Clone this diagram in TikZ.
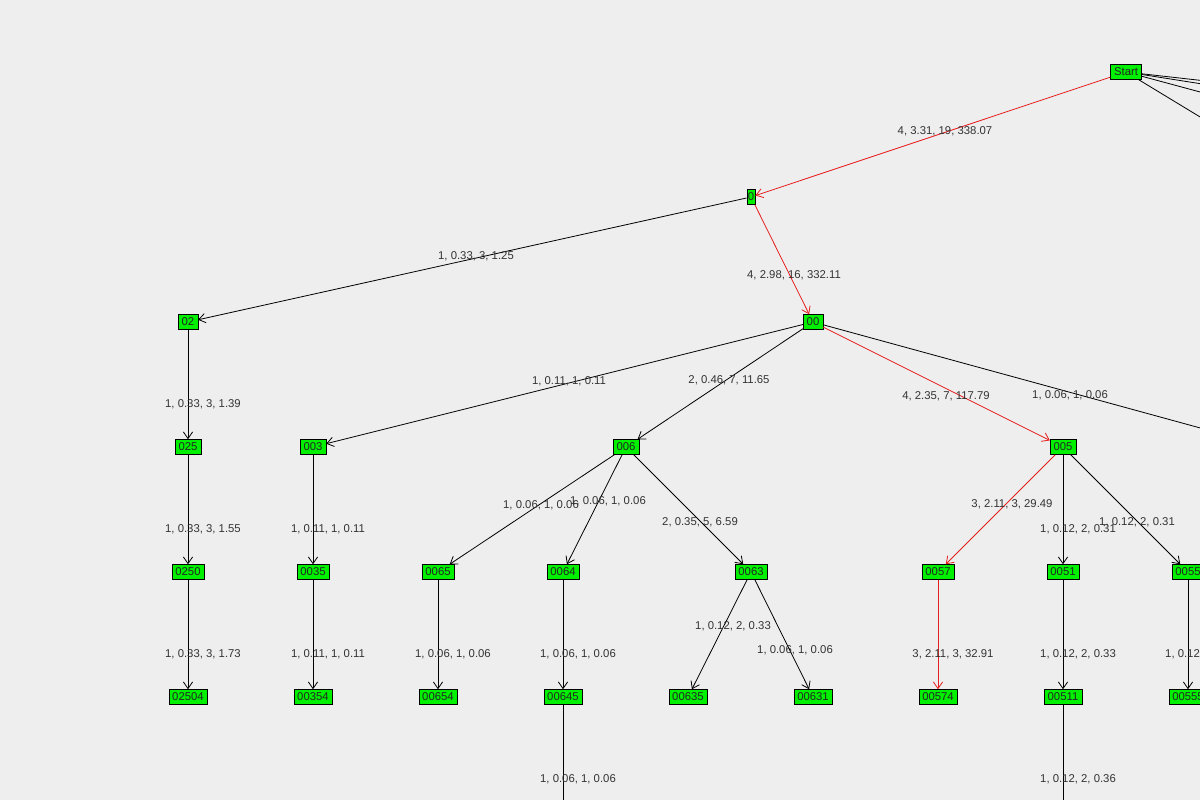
\documentclass[tikz,border=0pt]{standalone}
\usepackage{fontspec}
\setmainfont{Liberation Sans}
\usetikzlibrary{arrows.meta}
\definecolor{bg}{RGB}{238,238,238}
\definecolor{boxgreen}{RGB}{0,240,0}
\definecolor{hotred}{RGB}{230,30,30}
\tikzstyle{state}=[draw=black,fill=boxgreen,inner xsep=2.6pt,inner ysep=1.5pt,minimum height=15*0.75pt,font=\fontsize{8.5}{9}\selectfont,text=black!85]
\tikzstyle{edge}=[draw=black,line width=0.6pt,-{Straight Barb[length=5pt,width=7pt]}]
\tikzstyle{hot}=[draw=hotred,line width=0.6pt,-{Straight Barb[length=5pt,width=7pt]}]
\tikzstyle{lbl}=[font=\fontsize{8.5}{9}\selectfont,text=black!80,inner sep=0pt]

\begin{document}
\begin{tikzpicture}[x=0.75pt,y=-0.75pt]
  \fill[bg] (0,0) rectangle (1200,800);
  \useasboundingbox (0,0) rectangle (1200,800);

  \node[state] (start) at (1126,72) {Start};
  \node[state,inner xsep=0.8pt] (n0) at (751,197) {0};
  \node[state] (n02) at (188,322) {02};
  \node[state] (n00) at (813,322) {00};
  \node[state] (n025) at (188,447) {025};
  \node[state] (n003) at (313,447) {003};
  \node[state] (n006) at (626,447) {006};
  \node[state] (n005) at (1063,447) {005};
  \node[state] (n0250) at (188,572) {0250};
  \node[state] (n0035) at (313,572) {0035};
  \node[state] (n0065) at (438,572) {0065};
  \node[state] (n0064) at (563,572) {0064};
  \node[state] (n0063) at (751,572) {0063};
  \node[state] (n0057) at (938,572) {0057};
  \node[state] (n0051) at (1063,572) {0051};
  \node[state] (n0055) at (1188,572) {0055};
  \node[state] (n02504) at (188,697) {02504};
  \node[state] (n00354) at (313,697) {00354};
  \node[state] (n00654) at (438,697) {00654};
  \node[state] (n00645) at (563,697) {00645};
  \node[state] (n00635) at (688,697) {00635};
  \node[state] (n00631) at (813,697) {00631};
  \node[state] (n00574) at (938,697) {00574};
  \node[state] (n00511) at (1063,697) {00511};
  \node[state] (n00555) at (1188,697) {00555};

  % edges leaving the page
  \coordinate (s1) at (1215,82);
  \coordinate (s2) at (1215,86);
  \coordinate (s3) at (1215,96);
  \coordinate (s4) at (1215,126);
  \coordinate (r00) at (1215,432);
  \coordinate (d645) at (563,815);
  \coordinate (d511) at (1063,815);
  \foreach \c in {s1,s2,s3,s4}
    \draw[line width=0.6pt] (start) -- (\c);
  \draw[line width=0.6pt] (n00) -- (r00);
  \draw[line width=0.6pt] (n00645) -- (d645);
  \draw[line width=0.6pt] (n00511) -- (d511);

  \draw[hot] (start) -- (n0);
  \draw[hot] (n0) -- (n00);
  \draw[hot] (n00) -- (n005);
  \draw[hot] (n005) -- (n0057);
  \draw[hot] (n0057) -- (n00574);

  \draw[edge] (n0) -- (n02);
  \draw[edge] (n02) -- (n025);
  \draw[edge] (n025) -- (n0250);
  \draw[edge] (n0250) -- (n02504);
  \draw[edge] (n00) -- (n003);
  \draw[edge] (n003) -- (n0035);
  \draw[edge] (n0035) -- (n00354);
  \draw[edge] (n00) -- (n006);
  \draw[edge] (n006) -- (n0065);
  \draw[edge] (n006) -- (n0064);
  \draw[edge] (n006) -- (n0063);
  \draw[edge] (n0065) -- (n00654);
  \draw[edge] (n0064) -- (n00645);
  \draw[edge] (n0063) -- (n00635);
  \draw[edge] (n0063) -- (n00631);
  \draw[edge] (n005) -- (n0051);
  \draw[edge] (n005) -- (n0055);
  \draw[edge] (n0051) -- (n00511);
  \draw[edge] (n0055) -- (n00555);

  \node[lbl] (l1) at (945,131) {4, 3.31, 19, 338.07};
  \node[lbl] (l2) at (476,256) {1, 0.33, 3, 1.25};
  \node[lbl] (l3) at (794,275) {4, 2.98, 16, 332.11};
  \node[lbl] (l4) at (203,404) {1, 0.33, 3, 1.39};
  \node[lbl] (l5) at (569,381) {1, 0.11, 1, 0.11};
  \node[lbl] (l6) at (729,380) {2, 0.46, 7, 11.65};
  \node[lbl] (l7) at (946,396) {4, 2.35, 7, 117.79};
  \node[lbl] (l8) at (1070,395) {1, 0.06, 1, 0.06};
  \node[lbl] (l9) at (203,529) {1, 0.33, 3, 1.55};
  \node[lbl] (l10) at (328,529) {1, 0.11, 1, 0.11};
  \node[lbl] (l11) at (541,505) {1, 0.06, 1, 0.06};
  \node[lbl] (l12) at (608,501) {1, 0.06, 1, 0.06};
  \node[lbl] (l13) at (700,522) {2, 0.35, 5, 6.59};
  \node[lbl] (l14) at (1012,504) {3, 2.11, 3, 29.49};
  \node[lbl] (l15) at (1078,529) {1, 0.12, 2, 0.31};
  \node[lbl] (l16) at (1137,522) {1, 0.12, 2, 0.31};
  \node[lbl] (l17) at (203,654) {1, 0.33, 3, 1.73};
  \node[lbl] (l18) at (328,654) {1, 0.11, 1, 0.11};
  \node[lbl] (l19) at (453,654) {1, 0.06, 1, 0.06};
  \node[lbl] (l20) at (578,654) {1, 0.06, 1, 0.06};
  \node[lbl] (l21) at (733,626) {1, 0.12, 2, 0.33};
  \node[lbl] (l22) at (795,650) {1, 0.06, 1, 0.06};
  \node[lbl] (l23) at (953,654) {3, 2.11, 3, 32.91};
  \node[lbl] (l24) at (1078,654) {1, 0.12, 2, 0.33};
  \node[lbl] (l25) at (1203,654) {1, 0.12, 2, 0.33};
  \node[lbl] (l26) at (578,779) {1, 0.06, 1, 0.06};
  \node[lbl] (l27) at (1078,779) {1, 0.12, 2, 0.36};
\end{tikzpicture}
\end{document}
